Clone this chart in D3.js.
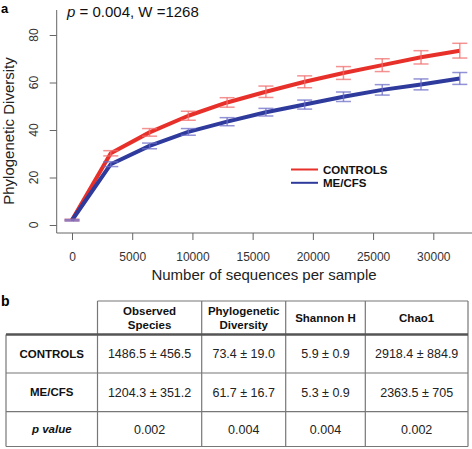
<!DOCTYPE html>
<html><head><meta charset="utf-8">
<script src="https://cdn.jsdelivr.net/npm/d3@7"></script>
<style>
body{margin:0;background:#fff;}
svg{display:block;font-family:"Liberation Sans",Arial,Helvetica,sans-serif;}
</style></head>
<body>
<svg id="chart" width="472" height="449"></svg>
<script>
// ---- data (panel a) ----
const depths = [0, 3220, 6440, 9660, 12880, 16100, 19320, 22540, 25760, 28980, 32200];
const controls = [2.1, 30.2, 39.0, 46.0, 51.6, 56.1, 60.3, 64.0, 67.3, 70.6, 73.4];
const controlsErr = [0.3, 1.1, 1.6, 1.9, 2.0, 2.4, 2.5, 2.7, 2.7, 2.8, 3.1];
const mecfs = [2.0, 25.6, 33.3, 39.2, 43.5, 47.5, 50.7, 54.0, 56.9, 59.2, 61.7];
const mecfsErr = [0.3, 1.0, 1.2, 1.4, 1.7, 1.6, 1.9, 2.0, 2.2, 2.3, 2.5];
const xTicks = [0, 5000, 10000, 15000, 20000, 25000, 30000];
const yTicks = [0, 20, 40, 60, 80];
const seriesNames = ["CONTROLS", "ME/CFS"];

// ---- data (panel b) ----
const tableHeaders = [["Observed", "Species"], ["Phylogenetic", "Diversity"], ["Shannon H"], ["Chao1"]];
const tableRowLabels = ["CONTROLS", "ME/CFS", "p value"];
const tableControls = ["1486.5 ± 456.5", "73.4 ± 19.0", "5.9 ± 0.9", "2918.4 ± 884.9"];
const tableMecfs = ["1204.3 ± 351.2", "61.7 ± 16.7", "5.3 ± 0.9", "2363.5 ± 705"];
const tablePvalues = ["0.002", "0.004", "0.004", "0.002"];

const svg = d3.select("#chart");
const x = d3.scaleLinear().domain([0, 30000]).range([72, 433.3]);
const y = d3.scaleLinear().domain([0, 80]).range([225, 35]);

const axisCol = "#666";
const labelCol = "#333";
const redLine = "#e8302a", blueLine = "#2e3a9c";
const redErr = "rgba(240,110,110,0.75)", blueErr = "rgba(110,110,200,0.75)";

// panel label
svg.append("text").attr("x", 1).attr("y", 13).attr("font-size", 13).attr("font-weight", "bold").text("a");

// box lines (L)
const xL = 56.7, yB = 233;
svg.append("line").attr("x1", xL).attr("x2", xL).attr("y1", 10).attr("y2", yB).attr("stroke", axisCol).attr("stroke-width", 1);
svg.append("line").attr("x1", xL).attr("x2", 472).attr("y1", yB).attr("y2", yB).attr("stroke", axisCol).attr("stroke-width", 1);

// x axis
const xAxis = svg.append("g").attr("transform", `translate(0,${yB})`)
  .call(d3.axisBottom(x).tickValues(xTicks).tickSize(7).tickPadding(12).tickFormat(d3.format("d")));
xAxis.select(".domain").remove();
xAxis.selectAll(".tick line").attr("stroke", axisCol);
xAxis.selectAll(".tick text").attr("fill", labelCol).attr("font-size", 12).attr("font-family", "Liberation Sans, Arial, sans-serif");

// y axis
const yAxis = svg.append("g").attr("transform", `translate(${xL},0)`)
  .call(d3.axisLeft(y).tickValues(yTicks).tickSize(7).tickFormat(""));
yAxis.select(".domain").remove();
yAxis.selectAll(".tick line").attr("stroke", axisCol);
svg.selectAll(".ylab").data(yTicks).enter().append("text")
  .attr("transform", d => `translate(33.5,${y(d)}) rotate(-90)`)
  .attr("text-anchor", "middle").attr("dy", "0.35em")
  .attr("font-size", 12).attr("fill", labelCol).text(d => d);

// axis titles
svg.append("text").attr("x", 264).attr("y", 280).attr("text-anchor", "middle")
  .attr("font-size", 15).attr("fill", "#222").text("Number of sequences per sample");
svg.append("text").attr("transform", "translate(14,131) rotate(-90)").attr("text-anchor", "middle")
  .attr("font-size", 15).attr("fill", "#222").text("Phylogenetic Diversity");

// stat text
const st = svg.append("text").attr("x", 67).attr("y", 17).attr("font-size", 15).attr("fill", "#111");
st.append("tspan").attr("font-style", "italic").text("p");
st.append("tspan").text(" = 0.004, W =1268");

// lines
const series = [
  {vals: controls, err: controlsErr, col: redLine, ecol: redErr},
  {vals: mecfs, err: mecfsErr, col: blueLine, ecol: blueErr}
];
const line = d3.line().x(d => x(d[0])).y(d => y(d[1]));
series.forEach(s => {
  svg.append("path").datum(depths.map((d, i) => [d, s.vals[i]]))
    .attr("d", line).attr("fill", "none").attr("stroke", s.col).attr("stroke-width", 4)
    .attr("stroke-linejoin", "round");
});
series.forEach(s => {
  const g = svg.append("g").attr("stroke", s.ecol).attr("stroke-width", 1.5).attr("fill", "none");
  depths.forEach((d, i) => {
    const cx = x(d), y1 = y(s.vals[i] - s.err[i]), y2 = y(s.vals[i] + s.err[i]);
    g.append("line").attr("x1", cx).attr("x2", cx).attr("y1", y1).attr("y2", y2);
    g.append("line").attr("x1", cx - 7.5).attr("x2", cx + 7.5).attr("y1", y1).attr("y2", y1);
    g.append("line").attr("x1", cx - 7.5).attr("x2", cx + 7.5).attr("y1", y2).attr("y2", y2);
  });
});

// legend
const legCols = [redLine, blueLine];
seriesNames.forEach((n, i) => {
  const ly = 169.5 + i * 13.3;
  svg.append("line").attr("x1", 291).attr("x2", 318).attr("y1", ly).attr("y2", ly)
    .attr("stroke", legCols[i]).attr("stroke-width", 2);
  svg.append("text").attr("x", 323).attr("y", ly).attr("dy", "0.36em")
    .attr("font-size", 11.5).attr("font-weight", "bold").attr("fill", "#111").text(n);
});

// ---- panel b: table ----
svg.append("text").attr("x", 1).attr("y", 306).attr("font-size", 14).attr("font-weight", "bold").text("b");
const colX = [6, 97.5, 201.7, 285.7, 365.3, 468];
const rowY = [301, 334.5, 373, 411.7, 446.5];
const tcol = "#777";
const tb = svg.append("g").attr("stroke", tcol).attr("stroke-width", 1.2);
// header top
tb.append("line").attr("x1", colX[1]).attr("x2", colX[5]).attr("y1", rowY[0]).attr("y2", rowY[0]);
// header verticals
colX.slice(1).forEach(cx => tb.append("line").attr("x1", cx).attr("x2", cx).attr("y1", rowY[0]).attr("y2", rowY[4]));
tb.append("line").attr("x1", colX[0]).attr("x2", colX[0]).attr("y1", rowY[1]).attr("y2", rowY[4]);
// horizontals
[2, 3, 4].forEach(r => tb.append("line").attr("x1", colX[0]).attr("x2", colX[5]).attr("y1", rowY[r]).attr("y2", rowY[r]));
svg.append("line").attr("x1", colX[0]).attr("x2", colX[5]).attr("y1", rowY[1]).attr("y2", rowY[1])
  .attr("stroke", "#555").attr("stroke-width", 2.5);

const cellCx = i => (colX[i] + colX[i + 1]) / 2;
const rowCy = r => (rowY[r] + rowY[r + 1]) / 2;
tableHeaders.forEach((h, j) => {
  const cx = cellCx(j + 1), cy = rowCy(0);
  h.forEach((t, k) => {
    svg.append("text").attr("x", cx).attr("y", cy + (k - (h.length - 1) / 2) * 13.5).attr("dy", "0.36em")
      .attr("text-anchor", "middle").attr("font-size", 11.5).attr("font-weight", "bold").attr("fill", "#111").text(t);
  });
});
const bodyRows = [tableControls, tableMecfs, tablePvalues];
tableRowLabels.forEach((lab, r) => {
  svg.append("text").attr("x", cellCx(0)).attr("y", rowCy(r + 1)).attr("dy", "0.36em")
    .attr("text-anchor", "middle").attr("font-size", 11.5).attr("font-weight", "bold")
    .attr("font-style", r === 2 ? "italic" : "normal").attr("fill", "#111").text(lab);
  bodyRows[r].forEach((v, j) => {
    svg.append("text").attr("x", cellCx(j + 1)).attr("y", rowCy(r + 1)).attr("dy", "0.36em")
      .attr("text-anchor", "middle").attr("font-size", 12.5).attr("fill", "#222").text(v);
  });
});
</script>
</body></html>
